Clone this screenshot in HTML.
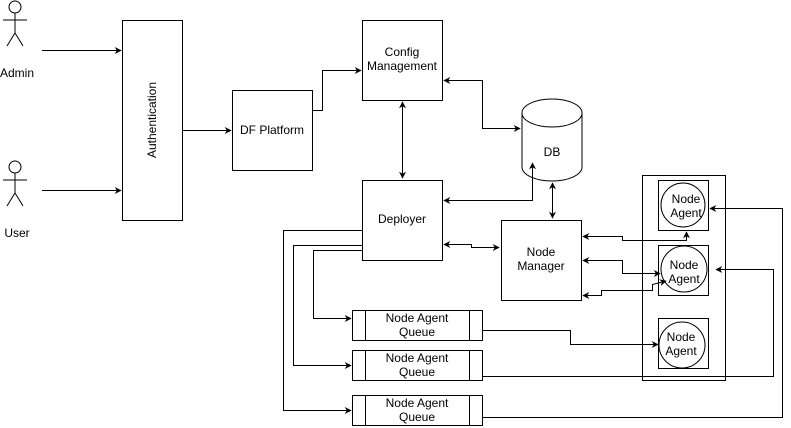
<!DOCTYPE html>
<html><head><style>body{margin:0;background:#fff}svg{display:block}text{font-family:"Liberation Sans",sans-serif;font-size:12px;fill:#000}</style></head><body>
<svg width="791" height="428" viewBox="0 0 791 428">
<defs><marker id="a" viewBox="0 0 10 10" refX="9" refY="5" markerWidth="7" markerHeight="7" orient="auto-start-reverse"><path d="M0,0L10,5L0,10L3,5z" fill="#000"/></marker></defs>
<g fill="none" stroke="#000" stroke-width="1">
<circle cx="15" cy="7" r="6"/><path d="M15 13V33M3 20H27M15 33L7 46M15 33L23 46"/>
<circle cx="15" cy="167" r="6"/><path d="M15 173V193M3 180H27M15 193L7 206M15 193L23 206"/>
<rect x="122.5" y="20.5" width="60" height="200"/>
<rect x="232.5" y="90.5" width="80" height="80"/>
<rect x="362.5" y="20.5" width="80" height="80"/>
<rect x="362.5" y="180.5" width="80" height="80"/>
<rect x="501.5" y="220.5" width="80" height="80"/>
<path d="M522 113V167A30 14 0 0 0 582 167V113"/><ellipse cx="552" cy="113" rx="30" ry="14"/>
<rect x="352.5" y="310.5" width="130" height="30"/><path d="M365.5 310V340M469.5 310V340"/>
<rect x="352.5" y="350.5" width="130" height="30"/><path d="M365.5 350V380M469.5 350V380"/>
<rect x="352.5" y="395.5" width="130" height="30"/><path d="M365.5 395V425M469.5 395V425"/>
<rect x="642.5" y="175.5" width="83" height="205"/>
<rect x="658.5" y="180.5" width="50" height="50"/><circle cx="683" cy="205" r="22"/>
<rect x="658.5" y="245.5" width="50" height="50"/><circle cx="684" cy="269" r="23"/>
<rect x="658.5" y="318.5" width="50" height="50"/><circle cx="682" cy="345" r="23"/>
<path d="M42 50.5H121" marker-end="url(#a)"/>
<path d="M42 190.5H121" marker-end="url(#a)"/>
<path d="M182 130.5H231" marker-end="url(#a)"/>
<path d="M312 110.5H322.5V70.5H361" marker-end="url(#a)"/>
<path d="M402.5 102V178" marker-start="url(#a)" marker-end="url(#a)"/>
<path d="M444 80.5H482.5V128.5H520" marker-start="url(#a)" marker-end="url(#a)"/>
<path d="M444 200.5H532.5V163" marker-start="url(#a)" marker-end="url(#a)"/>
<path d="M552.5 183V218" marker-start="url(#a)" marker-end="url(#a)"/>
<path d="M444 244.5H471.5V247.5H499" marker-start="url(#a)" marker-end="url(#a)"/>
<path d="M362 230.5H283.5V410.5H351" marker-end="url(#a)"/>
<path d="M362 245.5H293.5V365.5H351" marker-end="url(#a)"/>
<path d="M362 250.5H313.5V318.5H351" marker-end="url(#a)"/>
<path d="M482 330.5H570.5V344.5H658" marker-end="url(#a)"/>
<path d="M482 376.5H773.5V269.5H716" marker-end="url(#a)"/>
<path d="M482 417.5H782.5V208.5H710" marker-end="url(#a)"/>
<path d="M583 236.5H622.5V240.5H686.5V232" marker-start="url(#a)" marker-end="url(#a)"/>
<path d="M583 260.5H622.5V273.5H660" marker-start="url(#a)" marker-end="url(#a)"/>
<path d="M583 295.5H601.5V290.5H652.5V284.5L666 281" marker-start="url(#a)" marker-end="url(#a)"/>
</g>
<text x="17" y="77" text-anchor="middle">Admin</text>
<text x="17" y="237" text-anchor="middle">User</text>
<text transform="translate(156,120) rotate(-90)" text-anchor="middle">Authentication</text>
<text x="272" y="134" text-anchor="middle">DF Platform</text>
<text x="402" y="56" text-anchor="middle">Config</text><text x="402" y="70" text-anchor="middle">Management</text>
<text x="402" y="223" text-anchor="middle">Deployer</text>
<text x="552" y="156" text-anchor="middle">DB</text>
<text x="541" y="256" text-anchor="middle">Node</text><text x="541" y="270" text-anchor="middle">Manager</text>
<text x="417" y="322" text-anchor="middle">Node Agent</text><text x="417" y="336" text-anchor="middle">Queue</text>
<text x="417" y="362" text-anchor="middle">Node Agent</text><text x="417" y="376" text-anchor="middle">Queue</text>
<text x="417" y="407" text-anchor="middle">Node Agent</text><text x="417" y="421" text-anchor="middle">Queue</text>
<text x="686" y="203" text-anchor="middle">Node</text><text x="686" y="217" text-anchor="middle">Agent</text>
<text x="684" y="269" text-anchor="middle">Node</text><text x="684" y="283" text-anchor="middle">Agent</text>
<text x="681" y="341" text-anchor="middle">Node</text><text x="681" y="355" text-anchor="middle">Agent</text>
</svg></body></html>
